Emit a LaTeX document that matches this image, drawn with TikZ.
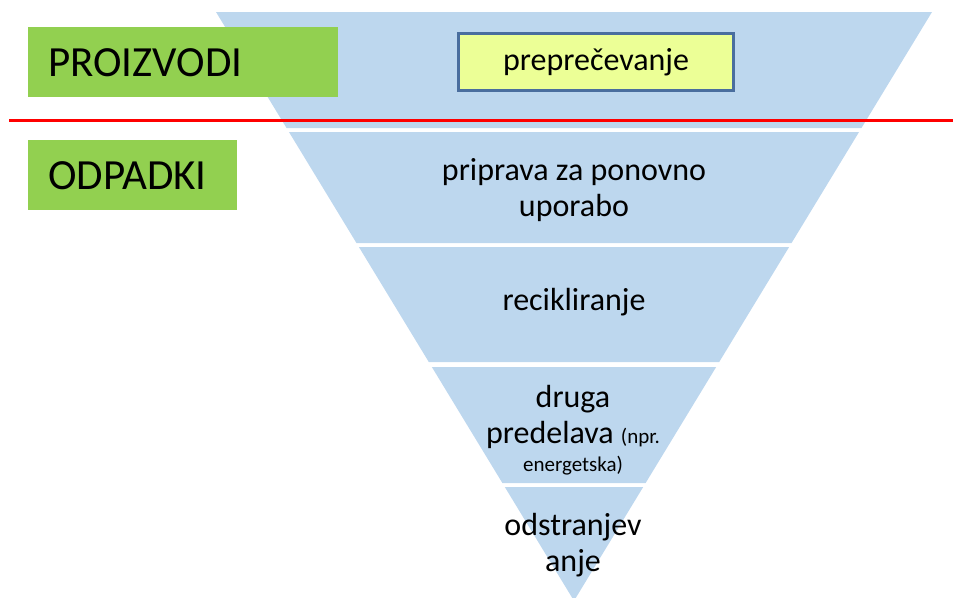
\documentclass[tikz,border=0pt]{standalone}
\usepackage{fontspec}
\setmainfont{Carlito}
\usepackage{tikz}
\definecolor{pyramid}{RGB}{189,215,238}
\definecolor{groupgreen}{RGB}{146,208,80}
\definecolor{preventfill}{RGB}{236,255,150}
\definecolor{preventedge}{RGB}{74,110,158}
\tikzset{groupbox/.style = {fill=groupgreen,anchor=north west,minimum height=70pt,inner xsep=20pt,align=left,font=\fontsize{43}{46}\selectfont},
         stagetext/.style = {align=center,font=\fontsize{32}{36}\selectfont}}
\newcommand{\smalltxt}{\fontsize{21}{24}\selectfont}

\begin{document}
\begin{tikzpicture}[x=1pt,y=-1pt]
            \useasboundingbox (0,0) rectangle (953,597);
            \clip (0,0) rectangle (953,597);
            \foreach \t/\b in {12/128,132/243,247/362,367/483,487/601} {
                \fill[pyramid] ({216+0.608*(\t-12)},\t) -- ({932-0.608*(\t-12)},\t) -- ({932-0.608*(\b-12)},\b) -- ({216+0.608*(\b-12)},\b) -- cycle;
            }
            \draw[red,line width=3pt] (9,120) -- (953,120);
            \node[groupbox,text width=270pt] (products) at (28,27) {PROIZVODI};
            \node[groupbox,text width=169pt] (waste) at (28,140) {ODPADKI};
            \node[stagetext,draw=preventedge,line width=3pt,fill=preventfill,minimum width=275pt,minimum height=57pt] (prevent) at (596,62) {preprečevanje};
            \node[stagetext] (reuse) at (574,190) {priprava za ponovno\\uporabo};
            \node[stagetext] (recycle) at (574,302) {recikliranje};
            \node[stagetext] (recovery) at (573,430) {druga\\predelava {\smalltxt(npr.}\\[-8pt]{\smalltxt energetska)}};
            \node[stagetext] (disposal) at (573,545) {odstranjev\\anje};
        \end{tikzpicture}
\end{document}
